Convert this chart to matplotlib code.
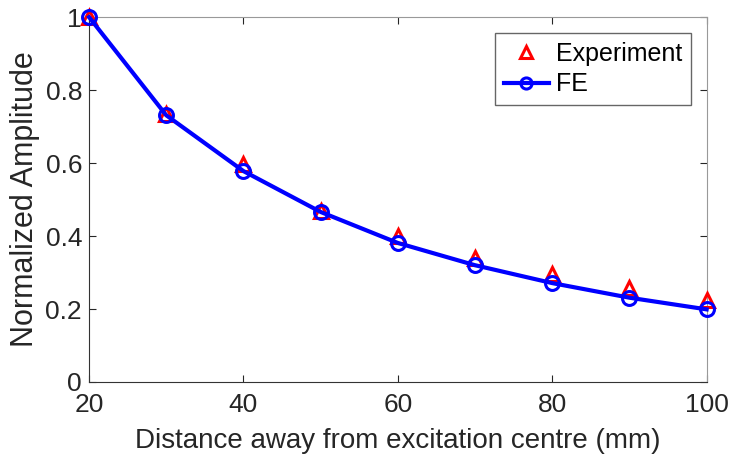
import matplotlib

matplotlib.use("Agg")
import matplotlib.pyplot as plt

distance = [20, 30, 40, 50, 60, 70, 80, 90, 100]
experiment = [1.0, 0.735, 0.598, 0.468, 0.400, 0.340, 0.295, 0.258, 0.225]
fe = [1.0, 0.731, 0.578, 0.466, 0.381, 0.320, 0.271, 0.231, 0.199]
xticks = [20, 40, 60, 80, 100]
yticks = [0, 0.2, 0.4, 0.6, 0.8, 1]

plt.rcParams["font.family"] = ["Liberation Sans", "DejaVu Sans"]

fig = plt.figure(figsize=(7.3, 4.63), dpi=100)
ax = fig.add_axes([0.122, 0.175, 0.846, 0.788])

ax.plot(distance, experiment, linestyle="none", marker="^", markersize=10,
        markerfacecolor="none", markeredgecolor="red", markeredgewidth=2.2,
        label="Experiment", clip_on=False, zorder=3)
ax.plot(distance, fe, color="blue", linewidth=3, marker="o", markersize=10,
        markerfacecolor="none", markeredgecolor="blue", markeredgewidth=2.2,
        label="FE", clip_on=False, zorder=4)

ax.set_xlim(20, 100)
ax.set_ylim(0, 1)
ax.set_xticks(xticks)
ax.set_yticks(yticks)
ax.set_yticklabels(["0", "0.2", "0.4", "0.6", "0.8", "1"])
ax.tick_params(direction="in", length=5, labelsize=19, colors="0.15", top=True, right=True)
ax.tick_params(axis="x", pad=8)
ax.tick_params(axis="y", pad=5)
ax.spines["left"].set_color("0.2")
ax.spines["bottom"].set_color("0.2")
ax.spines["top"].set_color("0.6")
ax.spines["right"].set_color("0.6")
ax.set_xlabel("Distance away from excitation centre (mm)", fontsize=20, color="0.15", labelpad=8)
ax.set_ylabel("Normalized Amplitude", fontsize=22, color="0.15", labelpad=4)

leg = ax.legend(loc="upper right", fontsize=18, fancybox=False, edgecolor="0.4",
                framealpha=1, handlelength=1.8, borderpad=0.35, labelspacing=0.25,
                handletextpad=0.3, markerscale=0.8, bbox_to_anchor=(0.995, 0.99))
leg.get_frame().set_linewidth(1.0)

fig.savefig("out.png", dpi=100)
